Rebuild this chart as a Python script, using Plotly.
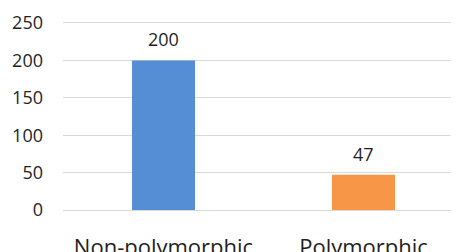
import plotly.graph_objects as go

categories = ["Non-polymorphic", "Polymorphic"]
values = [200, 47]
colors = ["#558ED5", "#F79646"]
y_ticks = [0, 50, 100, 150, 200, 250]

fig = go.Figure()
fig.add_trace(go.Bar(
    x=categories, y=values, marker=dict(color=colors, line=dict(width=0)),
    width=0.315, showlegend=False, hoverinfo="skip",
))

for c, v in zip(categories, values):
    fig.add_annotation(x=c, y=v, text=str(v), showarrow=False, yanchor="middle",
                       yshift=21, font=dict(family="Open Sans", size=18, color="#1f1f1f"))

fig.update_layout(
    width=451, height=244,
    margin=dict(l=55, r=0, t=11.7, b=38.8),
    paper_bgcolor="white", plot_bgcolor="white",
    bargap=0.685,
    xaxis=dict(range=[-0.5025, 1.4775], showgrid=False, showline=False, zeroline=False,
               ticks="", tickfont=dict(family="Open Sans", size=22, color="#1f1f1f"),
               ticklabelstandoff=19, fixedrange=True, automargin=False),
    yaxis=dict(range=[-4, 254], tickvals=y_ticks, showgrid=True, gridcolor="#D9D9D9",
               gridwidth=1.3, zeroline=False, showline=False, ticks="",
               tickfont=dict(family="Open Sans", size=18, color="#1f1f1f"),
               ticklabelstandoff=19, fixedrange=True, automargin=False),
)

fig.write_html("out.html")
